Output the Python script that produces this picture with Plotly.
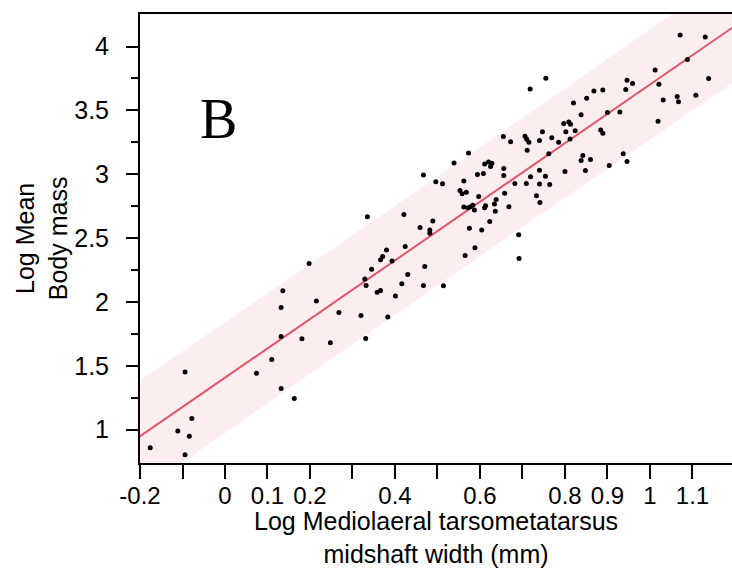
import numpy as np
import plotly.graph_objects as go

# Data
log_width = [
    -0.176, -0.094, -0.111, -0.078, -0.084, -0.094, 0.074, 0.110, 0.132, 0.181,
    0.132, 0.163, 0.136, 0.132, 0.335, 0.421, 0.459, 0.489, 0.482, 0.482,
    0.424, 0.380, 0.371, 0.366, 0.393, 0.198, 0.345, 0.470, 0.329, 0.430,
    0.332, 0.416, 0.467, 0.514, 0.358, 0.366, 0.401, 0.215, 0.268, 0.320,
    0.383, 0.248, 0.331, 0.467, 0.496, 0.573, 0.539, 0.512, 0.711, 0.611,
    0.620, 0.628, 0.625, 0.656, 0.594, 0.608, 0.656, 0.762, 0.740, 0.754,
    0.719, 0.562, 0.682, 0.709, 0.740, 0.764, 0.553, 0.558, 0.568, 0.658,
    0.597, 0.733, 0.638, 0.741, 0.634, 0.583, 0.578, 0.562, 0.572, 0.587,
    0.611, 0.613, 0.668, 0.636, 0.623, 0.575, 0.604, 0.691, 0.588, 0.565,
    0.692, 0.755, 0.718, 0.820, 0.838, 0.797, 0.809, 0.813, 0.747, 0.802,
    0.824, 0.655, 0.672, 0.706, 0.710, 0.715, 0.740, 0.769, 0.785, 0.812,
    1.012, 0.946, 0.959, 0.943, 1.021, 0.868, 0.889, 0.851, 0.900, 0.929,
    0.884, 0.889, 1.019, 0.937, 0.946, 0.842, 0.838, 0.860, 0.848, 0.904,
    1.071, 1.130, 1.088, 1.138, 1.064, 1.067, 1.108, 1.031, 0.800,
]
log_mass = [
    0.859, 1.451, 0.990, 1.088, 0.948, 0.804, 1.441, 1.550, 1.730, 1.712,
    1.323, 1.245, 2.088, 1.957, 2.667, 2.685, 2.583, 2.635, 2.563, 2.539,
    2.434, 2.406, 2.356, 2.330, 2.320, 2.301, 2.257, 2.278, 2.179, 2.215,
    2.129, 2.142, 2.129, 2.127, 2.077, 2.090, 2.046, 2.007, 1.918, 1.894,
    1.882, 1.681, 1.714, 2.995, 2.941, 3.167, 3.089, 2.925, 3.189, 3.081,
    3.097, 3.087, 3.060, 3.045, 2.998, 3.006, 2.990, 3.160, 3.032, 2.985,
    2.980, 2.948, 2.927, 2.927, 2.923, 2.919, 2.872, 2.847, 2.860, 2.852,
    2.826, 2.831, 2.802, 2.779, 2.768, 2.758, 2.745, 2.743, 2.737, 2.721,
    2.737, 2.753, 2.745, 2.711, 2.630, 2.578, 2.563, 2.526, 2.424, 2.364,
    2.340, 3.752, 3.668, 3.559, 3.467, 3.397, 3.410, 3.392, 3.332, 3.332,
    3.340, 3.295, 3.254, 3.298, 3.275, 3.251, 3.264, 3.285, 3.251, 3.277,
    3.817, 3.736, 3.710, 3.663, 3.705, 3.653, 3.660, 3.595, 3.483, 3.488,
    3.347, 3.322, 3.415, 3.160, 3.099, 3.146, 3.107, 3.115, 3.029, 3.068,
    4.091, 4.075, 3.898, 3.749, 3.608, 3.567, 3.619, 3.582, 3.021,
]

fit_slope = 2.296
fit_intercept = 1.407
band_halfwidth = 0.425
band_curvature = 0.02
band_center = 0.55

x_tick_values = [-0.2, -0.1, 0, 0.1, 0.2, 0.3, 0.4, 0.5, 0.6, 0.7, 0.8, 0.9, 1.0, 1.1]
x_tick_labels = ["-0.2", "", "0", "0.1", "0.2", "", "0.4", "", "0.6", "", "0.8", "0.9", "1", "1.1"]
y_tick_values = [1, 1.5, 2, 2.5, 3, 3.5, 4]
y_tick_labels = ["1", "1.5", "2", "2.5", "3", "3.5", "4"]
y_minor_values = [1.25, 1.75, 2.25, 2.75, 3.25, 3.75]

x_title = "Log Mediolaeral tarsometatarsus<br>midshaft width (mm)"
y_title = "Log Mean<br>Body mass"
panel_label = "B"

x_range = [-0.2, 1.193]
y_range = [0.739, 4.255]

xs = np.linspace(x_range[0] - 0.05, x_range[1] + 0.05, 200)
fit = fit_intercept + fit_slope * xs
hw = np.sqrt(band_halfwidth ** 2 + band_curvature * (xs - band_center) ** 2)

font_family = "Liberation Sans, Arial, sans-serif"

fig = go.Figure()
fig.add_trace(go.Scatter(
    x=np.concatenate([xs, xs[::-1]]),
    y=np.concatenate([fit + hw, (fit - hw)[::-1]]),
    fill="toself", fillcolor="#fcedee", line=dict(width=0),
    mode="lines", hoverinfo="skip", showlegend=False,
))
fig.add_trace(go.Scatter(
    x=xs, y=fit, mode="lines",
    line=dict(color="#e0576b", width=2), showlegend=False,
))
fig.add_trace(go.Scatter(
    x=log_width, y=log_mass, mode="markers",
    marker=dict(color="black", size=5), showlegend=False,
))

fig.add_annotation(
    x=-0.016, y=3.43, xref="x", yref="y", text=panel_label, showarrow=False,
    font=dict(family="Liberation Serif, Times New Roman, serif", size=56, color="black"),
)
fig.add_annotation(
    x=0.5, y=-0.166, xref="paper", yref="paper", text=x_title, showarrow=False,
    xanchor="center", yanchor="middle",
    font=dict(family=font_family, size=25, color="black"),
)
fig.add_annotation(
    x=-0.166, y=0.5, xref="paper", yref="paper", text=y_title, showarrow=False,
    xanchor="center", yanchor="middle", textangle=-90,
    font=dict(family=font_family, size=25, color="black"),
)

fig.update_xaxes(
    range=x_range, tickvals=x_tick_values, ticktext=x_tick_labels,
    ticks="outside", ticklen=14, tickwidth=2, tickcolor="black",
    showline=True, linewidth=2, linecolor="black", mirror=True,
    showgrid=False, zeroline=False, automargin=False,
    ticklabelstandoff=-4,
    tickfont=dict(family=font_family, size=24, color="black"),
)
fig.update_yaxes(
    range=y_range, tickvals=y_tick_values, ticktext=y_tick_labels,
    ticks="outside", ticklen=12, tickwidth=2, tickcolor="black",
    minor=dict(tickvals=y_minor_values, ticks="outside",
               ticklen=7, tickwidth=2, tickcolor="black"),
    showline=True, linewidth=2, linecolor="black",
    showgrid=False, zeroline=False, automargin=False,
    ticklabelstandoff=12,
    tickfont=dict(family=font_family, size=25, color="black"),
)
fig.update_layout(
    width=732, height=576,
    margin=dict(l=140, r=0, t=14, b=113),
    paper_bgcolor="white", plot_bgcolor="white",
)
fig.write_html(
    "out.html",
    config={"displayModeBar": False},
    post_script="document.body.style.margin='0';document.body.style.overflow='hidden';",
)
